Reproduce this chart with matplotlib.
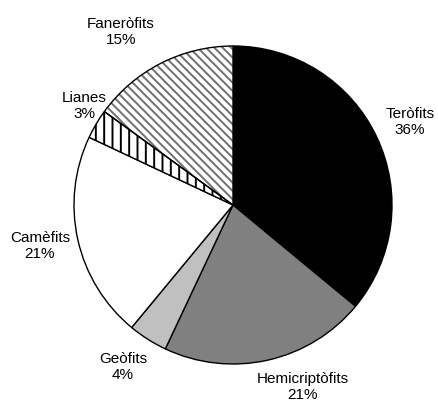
import matplotlib
matplotlib.use('Agg')
import matplotlib.pyplot as plt
from matplotlib.patches import Wedge

# data
names = ['Teròfits', 'Hemicriptòfits', 'Geòfits', 'Camèfits', 'Lianes', 'Faneròfits']
values = [36, 21, 4, 21, 3, 15]
colors = ['black', '#808080', '#c0c0c0', 'white', 'white', 'white']
BS = chr(92)  # backslash
hatches = [None, None, None, None, '||', BS * 4]
hatch_colors = [None, None, None, None, 'black', '#707070']

# label centres in pixel coords (x from left, y from top)
label_pos = [(410, 122), (303, 387), (123, 367), (40, 246), (84, 106), (121, 32)]

W, H = 439, 404
plt.rcParams['font.family'] = ['Liberation Sans', 'DejaVu Sans']
plt.rcParams['hatch.linewidth'] = 1.4

fig = plt.figure(figsize=(W / 100, H / 100), dpi=100)
ax = fig.add_axes([0, 0, 1, 1])

cx, cy, r = 233, H - 205, 159
wedges, _ = ax.pie(values, colors=colors, startangle=90, counterclock=False,
                   center=(cx, cy), radius=r, frame=True,
                   wedgeprops=dict(edgecolor='black', linewidth=1))
ax.set_xlim(0, W)
ax.set_ylim(0, H)
ax.set_aspect('equal')
ax.axis('off')

for w, h, hc in zip(wedges, hatches, hatch_colors):
    if h is None:
        continue
    w.set_hatch(h)
    w.set_edgecolor(hc)
    w.set_linewidth(0)
    ax.add_patch(Wedge(w.center, w.r, w.theta1, w.theta2, fill=False,
                       edgecolor='black', linewidth=1, zorder=w.get_zorder() + 0.1))

for name, v, (lx, ly) in zip(names, values, label_pos):
    ax.text(lx, H - ly, f'{name}\n{v}%', ha='center', va='center',
            fontsize=11, linespacing=1.25)

fig.savefig('out.png', dpi=100)
